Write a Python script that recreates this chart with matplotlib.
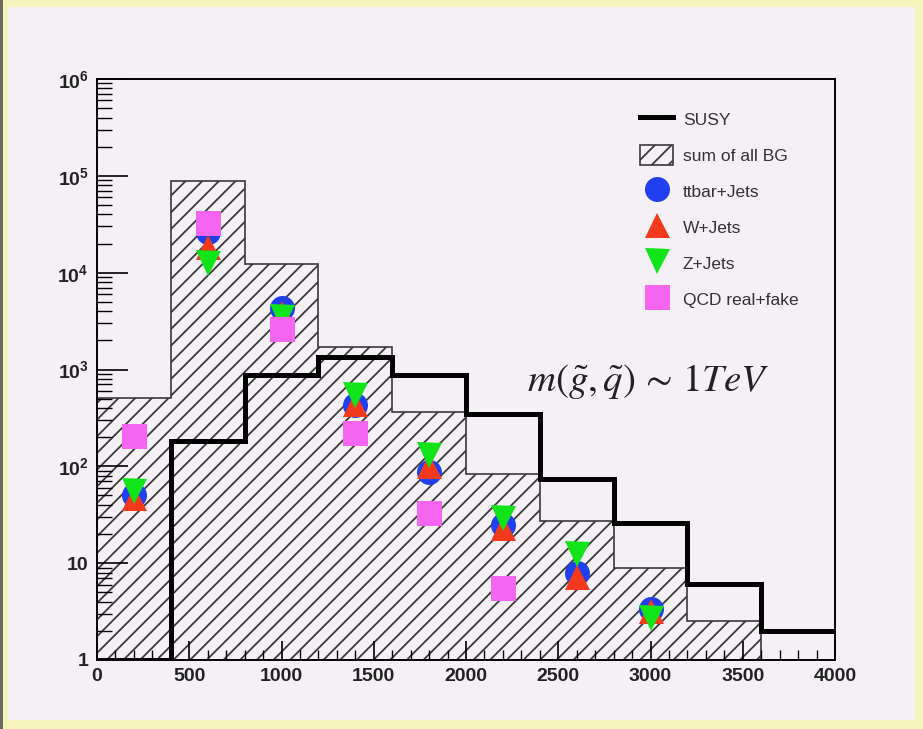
import matplotlib
matplotlib.use("Agg")
import matplotlib.pyplot as plt
import numpy as np
from matplotlib.lines import Line2D
from matplotlib.patches import Patch, Rectangle
from matplotlib.ticker import FixedLocator, FuncFormatter, NullFormatter

# histogram binning (GeV)
edges = [0, 400, 800, 1200, 1600, 2000, 2400, 2800, 3200, 3600, 4000]
susy = [1, 183, 880, 1350, 880, 347, 74, 26, 6.1, 2.0]
bg_sum = [510, 89000, 12300, 1700, 365, 83, 27, 8.9, 2.5, 0]

# individual backgrounds at bin centres
centers = [200, 600, 1000, 1400, 1800, 2200, 2600, 3000]
ttbar = [50, 26000, 4300, 430, 87, 25, 7.9, 3.4]
wjets = [47, 18500, 3800, 440, 100, 23, 7.2, 3.2]
zjets = [55, 12600, 3500, 540, 130, 29, 12.5, 2.7]
qcd_centers = [200, 600, 1000, 1400, 1800, 2200]
qcd = [205, 32600, 2600, 221, 33, 5.5]

plt.rcParams['font.family'] = ['Liberation Sans', 'DejaVu Sans']
plt.rcParams['mathtext.fontset'] = 'custom'
plt.rcParams['mathtext.rm'] = 'Liberation Sans'
plt.rcParams['mathtext.bf'] = 'Liberation Sans:bold'
plt.rcParams['hatch.linewidth'] = 1.3

panel = '#f4f0f5'
fig = plt.figure(figsize=(9.23, 7.29), dpi=100, facecolor='#f6f3bc')
fig.patches.append(Rectangle((8 / 923, 9 / 729), 907 / 923, 713 / 729,
                             transform=fig.transFigure, facecolor=panel,
                             edgecolor='none', zorder=-2))
fig.patches.append(Rectangle((0, 0), 3 / 923, 1, transform=fig.transFigure,
                             facecolor='#6b6b60', edgecolor='none', zorder=-2))

ax = fig.add_axes([97 / 923, 1 - 660 / 729, 738 / 923, 581 / 729])
ax.set_facecolor(panel)
ax.set_yscale('log')
ax.set_xlim(0, 4000)
ax.set_ylim(1, 1e6)

# sum of backgrounds, hatched
nb = int(np.nonzero(bg_sum)[0].max()) + 1
ax.stairs(bg_sum[:nb], edges[:nb + 1], fill=True, baseline=0.1, hatch='//',
          facecolor='none', edgecolor='#3a3a3a', linewidth=1.2, zorder=1)

# signal
ax.stairs(susy, edges, baseline=None, color='black', linewidth=3.6, zorder=3)

ms = 18
ax.plot(centers, ttbar, 'o', color='#1f3ff0', ms=ms, mew=0, zorder=4)
ax.plot(centers, wjets, '^', color='#f2391c', ms=ms, mew=0, zorder=4)
ax.plot(centers, zjets, 'v', color='#12e41a', ms=ms, mew=0, zorder=4)
ax.plot(qcd_centers, qcd, 's', color='#f566f0', ms=ms, mew=0, zorder=4)

ax.text(2990, 745, r'$m(\tilde{g},\tilde{q})\,\sim\,\mathit{1TeV}$',
        math_fontfamily='stix', fontsize=28, ha='center', va='center',
        color='#222222')

# axes style: inward ticks on left and bottom only
for s in ax.spines.values():
    s.set_linewidth(1.4)
ax.xaxis.set_major_locator(FixedLocator(np.arange(0, 4001, 500)))
ax.xaxis.set_minor_locator(FixedLocator(np.arange(0, 4001, 100)))
ax.yaxis.set_major_locator(FixedLocator(10.0 ** np.arange(0, 7)))
ax.yaxis.set_minor_locator(FixedLocator(
    [m * 10.0 ** e for e in range(6) for m in range(2, 10)]))
ax.yaxis.set_minor_formatter(NullFormatter())
ax.tick_params(axis='x', which='major', direction='in', length=14, width=1.2,
               top=False, pad=6, labelsize=14)
ax.tick_params(axis='x', which='minor', direction='in', length=7, width=1.0,
               top=False)
ax.tick_params(axis='y', which='major', direction='in', length=22, width=1.2,
               right=False, pad=6, labelsize=14)
ax.tick_params(axis='y', which='minor', direction='in', length=11, width=1.0,
               right=False)


def ylab(v, pos):
    e = int(round(np.log10(v)))
    if e == 0:
        return '1'
    if e == 1:
        return '10'
    return r'$\mathbf{10^{%d}}$' % e


ax.yaxis.set_major_formatter(FuncFormatter(ylab))
for lab in ax.get_xticklabels() + ax.get_yticklabels():
    lab.set_fontweight('bold')
    lab.set_color('#222222')

handles = [
    Line2D([], [], color='black', lw=3.6),
    Patch(facecolor='none', edgecolor='#3a3a3a', hatch='//', lw=1.2),
    Line2D([], [], marker='o', ls='none', color='#1f3ff0', ms=ms, mew=0),
    Line2D([], [], marker='^', ls='none', color='#f2391c', ms=ms, mew=0),
    Line2D([], [], marker='v', ls='none', color='#12e41a', ms=ms, mew=0),
    Line2D([], [], marker='s', ls='none', color='#f566f0', ms=ms, mew=0),
]
labels = ['SUSY', 'sum of all BG', 'ttbar+Jets', 'W+Jets', 'Z+Jets',
          'QCD real+fake']
leg = ax.legend(handles, labels, loc='upper left', bbox_to_anchor=(0.736, 0.948),
                frameon=False, fontsize=12.5, handlelength=1.9, handleheight=1.4,
                handletextpad=0.55, labelspacing=0.92, borderpad=0,
                borderaxespad=0)
for t in leg.get_texts():
    t.set_color('#333333')

fig.savefig('out.png', dpi=100, facecolor=fig.get_facecolor())
